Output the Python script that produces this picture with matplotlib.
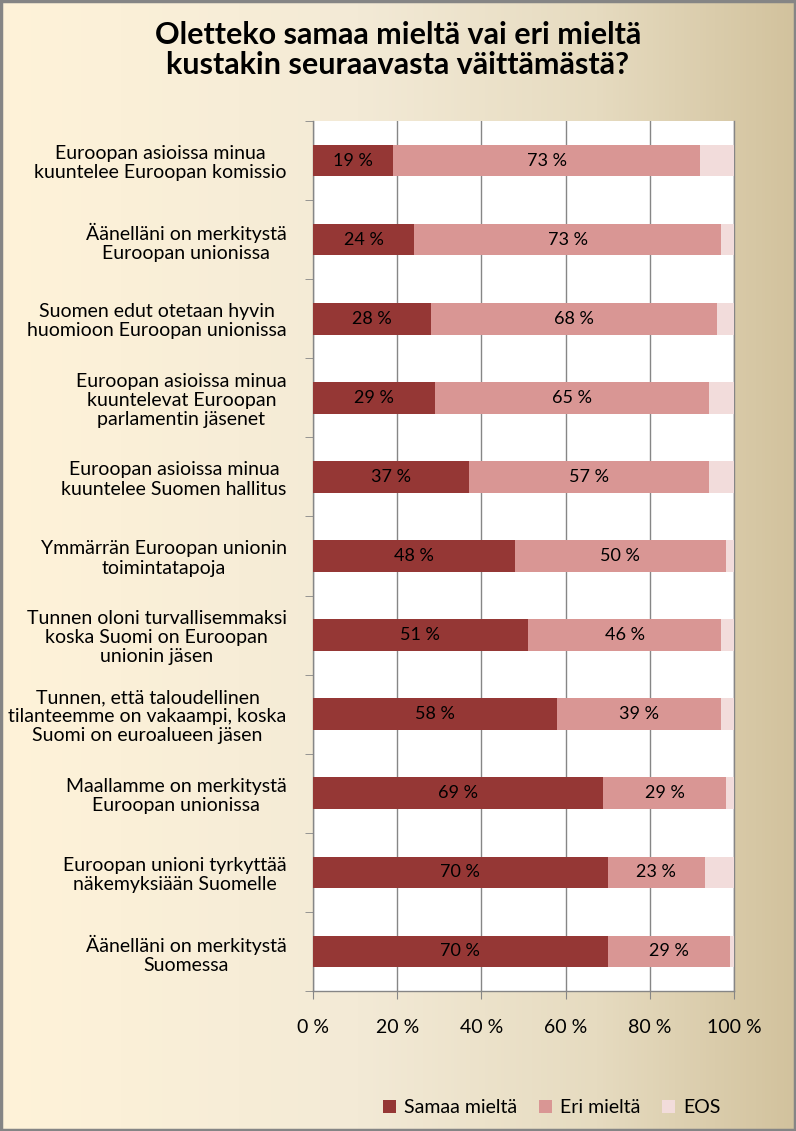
import numpy as np
import matplotlib
matplotlib.use("Agg")
import matplotlib.pyplot as plt
from matplotlib.colors import LinearSegmentedColormap
from matplotlib.patches import Rectangle

categories = [
    "Euroopan asioissa minua\nkuuntelee Euroopan komissio",
    "Äänelläni on merkitystä\nEuroopan unionissa",
    "Suomen edut otetaan hyvin\nhuomioon Euroopan unionissa",
    "Euroopan asioissa minua\nkuuntelevat Euroopan\nparlamentin jäsenet",
    "Euroopan asioissa minua\nkuuntelee Suomen hallitus",
    "Ymmärrän Euroopan unionin\ntoimintatapoja",
    "Tunnen oloni turvallisemmaksi\nkoska Suomi on Euroopan\nunionin jäsen",
    "Tunnen, että taloudellinen\ntilanteemme on vakaampi, koska\nSuomi on euroalueen jäsen",
    "Maallamme on merkitystä\nEuroopan unionissa",
    "Euroopan unioni tyrkyttää\nnäkemyksiään Suomelle",
    "Äänelläni on merkitystä\nSuomessa",
]
samaa = [19, 24, 28, 29, 37, 48, 51, 58, 69, 70, 70]
eri = [73, 73, 68, 65, 57, 50, 46, 39, 29, 23, 29]
eos = [8, 3, 4, 6, 6, 2, 3, 3, 2, 7, 1]
series_names = ["Samaa mieltä", "Eri mieltä", "EOS"]
xticks = [0, 20, 40, 60, 80, 100]
xtick_labels = ["0 %", "20 %", "40 %", "60 %", "80 %", "100 %"]
title = "Oletteko samaa mieltä vai eri mieltä\nkustakin seuraavasta väittämästä?"

colors = ["#953735", "#D99694", "#F2DCDB"]
FONT = ["Lato", "DejaVu Sans"]
plt.rcParams["font.family"] = FONT

fig = plt.figure(figsize=(7.96, 11.31), dpi=100)

# background gradient
bg = fig.add_axes([0, 0, 1, 1], zorder=-10)
cmap = LinearSegmentedColormap.from_list(
    "bg", [(0.0, "#FFF3D9"), (0.45, "#F3EAD6"), (0.75, "#E6DBC0"), (1.0, "#D2C29D")])
grad = np.linspace(0, 1, 256).reshape(1, -1)
bg.imshow(grad, aspect="auto", cmap=cmap, extent=[0, 1, 0, 1])
bg.set_xlim(0, 1); bg.set_ylim(0, 1)
bg.axis("off")
bg.add_patch(Rectangle((0.001, 0.001), 0.998, 0.998, fill=False,
                       edgecolor="#858585", linewidth=2.5, transform=bg.transAxes))

ax = fig.add_axes([0.3932, 0.1238, 0.5289, 0.7692])
ax.set_facecolor("white")
y = np.arange(len(categories))
h = 0.4
left = np.zeros(len(categories))
for vals, col, name in zip([samaa, eri, eos], colors, series_names):
    vals = np.array(vals, dtype=float)
    ax.barh(y, vals, left=left, height=h, color=col, label=name, zorder=3)
    if name != "EOS":
        for yi, l, v in zip(y, left, vals):
            ax.text(l + v / 2, yi, f"{int(v)} %", ha="center", va="center",
                    fontsize=13, color="black", zorder=4)
    left += vals

ax.set_xlim(0, 100)
ax.set_ylim(len(categories) - 0.5, -0.5)
ax.set_xticks(xticks)
ax.set_xticklabels(xtick_labels, fontsize=14)
ax.set_yticks(y)
ax.set_yticklabels(categories, fontsize=14, multialignment="center", linespacing=1.15)
ax.set_yticks(np.arange(-0.5, len(categories), 1), minor=True)
ax.tick_params(axis="y", which="major", length=0, pad=19)
ax.tick_params(axis="y", which="minor", length=6, color="#868686", direction="out")
ax.tick_params(axis="x", length=6, color="#868686", direction="out", pad=14)
ax.grid(axis="x", color="#868686", linewidth=1, zorder=0)
ax.set_axisbelow(True)
ax.spines["top"].set_visible(False)
for s in ["left", "bottom", "right"]:
    ax.spines[s].set_color("#868686")
    ax.spines[s].set_linewidth(1)

fig.text(0.5, 0.956, title, ha="center", va="center", fontsize=22,
         fontweight="bold", linespacing=1.08)

handles, labels = ax.get_legend_handles_labels()
fig.legend(handles, labels, loc="center", bbox_to_anchor=(0.693, 0.0205), ncol=3,
           frameon=False, fontsize=14, handlelength=0.7, handleheight=0.7,
           columnspacing=1.1, handletextpad=0.4)

fig.savefig("out.png", dpi=100)
